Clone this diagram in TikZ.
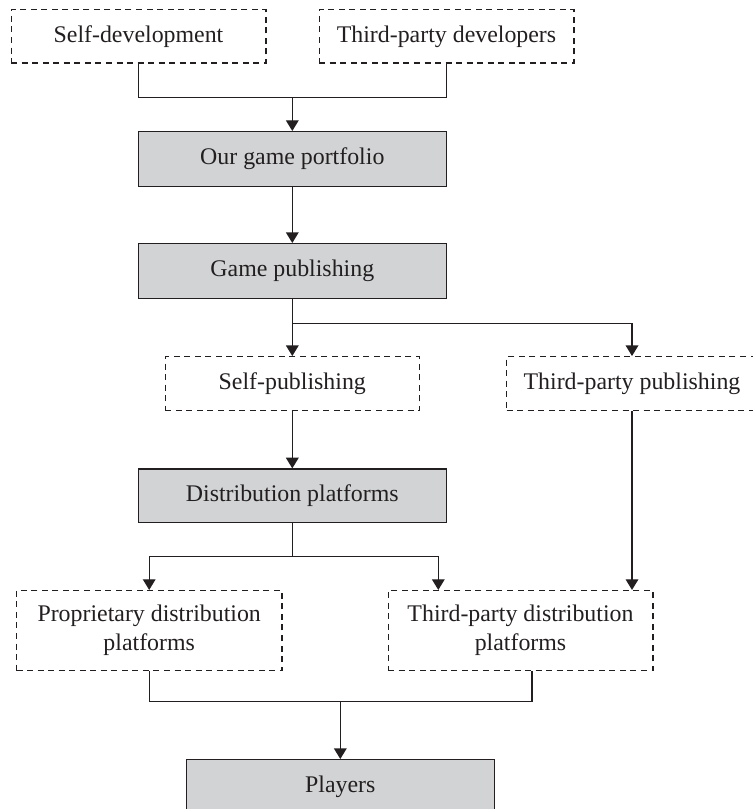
\documentclass[tikz,border=0pt]{standalone}
\usepackage{fontspec}
\setmainfont{Liberation Serif}
\usetikzlibrary{arrows.meta}
\definecolor{ink}{HTML}{231F20}
\definecolor{boxgray}{HTML}{D1D3D4}
\begin{document}
\begin{tikzpicture}[x=0.75pt, y=-0.75pt,
  line width=1pt, draw=ink, text=ink,
  font=\fontsize{17.9}{21.8}\selectfont,
  base/.style={rectangle, inner sep=0pt, align=center, draw=ink, line width=1pt},
  dashbox/.style={base, dash pattern=on 4.5pt off 3.4pt},
  graybox/.style={base, fill=boxgray},
  arr/.style={-{Triangle[length=8pt, width=9.5pt]}}
]
\useasboundingbox (0,0) rectangle (752,809);

% sources
\node[dashbox, minimum width=191pt, minimum height=40pt] (selfdev) at (138.5,36.5) {Self-development};
\node[dashbox, minimum width=191pt, minimum height=40pt] (thirddev) at (446.5,36.5) {Third-party developers};

% main chain
\node[graybox, minimum width=231pt, minimum height=41pt] (portfolio) at (292.3,159) {Our game portfolio};
\node[graybox, minimum width=231pt, minimum height=41pt] (publishing) at (292.3,271) {Game publishing};

% publishing routes
\node[dashbox, minimum width=190.5pt, minimum height=40.5pt] (selfpub) at (292.3,383.7) {Self-publishing};
\node[dashbox, minimum width=188pt, minimum height=40.5pt] (thirdpub) at (632,383.7) {Third-party publishing};

\node[graybox, minimum width=231pt, minimum height=40pt] (distribution) at (292.3,495.7) {Distribution platforms};

% distribution channels
\node[dashbox, minimum width=199pt, minimum height=60pt] (prop) at (149.2,630.6) {Proprietary distribution\\platforms};
\node[dashbox, minimum width=198.5pt, minimum height=60pt] (thirddist) at (520.5,630.6) {Third-party distribution\\platforms};

\node[graybox, minimum width=231pt, minimum height=41pt] (players) at (340.3,787) {Players};

% junction points
\coordinate (j1) at (292.3,97.5);
\coordinate (j2) at (292.3,323.3);
\coordinate (j3) at (292.3,556.7);
\coordinate (t1) at (438.3,556.7);
\coordinate (j4) at (340.3,701.7);
\coordinate (b2) at (532,701.7);

% connectors
\draw (selfdev.south) |- (j1) -| (thirddev.south);
\draw[arr] (j1) -- (portfolio.north);
\draw[arr] (portfolio.south) -- (publishing.north);
\draw (publishing.south) -- (j2);
\draw[arr] (j2) -- (selfpub.north);
\draw[arr] (j2) -| (thirdpub.north);
\draw[arr] (selfpub.south) -- (distribution.north);
\draw (distribution.south) -- (j3);
\draw[arr] (j3) -| (prop.north);
\draw[arr] (j3) -- (t1) -- (t1 |- thirddist.north);
\draw[arr] (thirdpub.south) -- (thirdpub.south |- thirddist.north);
\draw (prop.south) |- (b2) -- (b2 |- thirddist.south);
\draw[arr] (j4) -- (players.north);
\end{tikzpicture}
\end{document}
